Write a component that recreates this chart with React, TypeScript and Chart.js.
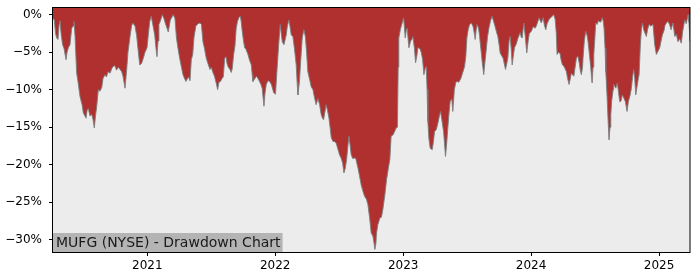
import React, { useEffect, useRef } from "react";
import { Chart, registerables } from "chart.js";

Chart.register(...registerables);

const title = "MUFG (NYSE) - Drawdown Chart";

// decimal-year dates of the drawdown samples
const dates: number[] = [
  2020.263, 2020.273, 2020.283, 2020.292, 2020.302, 2020.310, 2020.318, 2020.326, 2020.338, 2020.349,
  2020.365, 2020.373, 2020.383, 2020.396, 2020.409, 2020.420, 2020.427, 2020.435, 2020.448, 2020.459,
  2020.474, 2020.490, 2020.500, 2020.513, 2020.521, 2020.529, 2020.539, 2020.552, 2020.566, 2020.576,
  2020.586, 2020.595, 2020.605, 2020.617, 2020.630, 2020.644, 2020.654, 2020.670, 2020.681, 2020.693,
  2020.709, 2020.722, 2020.732, 2020.748, 2020.759, 2020.773, 2020.787, 2020.800, 2020.810, 2020.826,
  2020.839, 2020.849, 2020.865, 2020.877, 2020.886, 2020.904, 2020.917, 2020.927, 2020.941, 2020.955,
  2020.969, 2020.982, 2020.998, 2021.009, 2021.019, 2021.031, 2021.045, 2021.058, 2021.068, 2021.076,
  2021.084, 2021.091, 2021.103, 2021.117, 2021.130, 2021.142, 2021.154, 2021.164, 2021.180, 2021.193,
  2021.203, 2021.216, 2021.228, 2021.240, 2021.253, 2021.267, 2021.279, 2021.291, 2021.302, 2021.314,
  2021.322, 2021.334, 2021.344, 2021.355, 2021.365, 2021.380, 2021.396, 2021.412, 2021.423, 2021.435,
  2021.447, 2021.461, 2021.474, 2021.490, 2021.500, 2021.513, 2021.525, 2021.537, 2021.550, 2021.560,
  2021.572, 2021.584, 2021.594, 2021.605, 2021.615, 2021.623, 2021.633, 2021.646, 2021.656, 2021.664,
  2021.675, 2021.685, 2021.695, 2021.705, 2021.716, 2021.727, 2021.734, 2021.742, 2021.752, 2021.761,
  2021.771, 2021.787, 2021.798, 2021.813, 2021.820, 2021.826, 2021.838, 2021.852, 2021.865, 2021.877,
  2021.888, 2021.898, 2021.912, 2021.920, 2021.930, 2021.943, 2021.956, 2021.970, 2021.988, 2022.002,
  2022.013, 2022.027, 2022.039, 2022.047, 2022.055, 2022.068, 2022.086, 2022.095, 2022.107, 2022.115,
  2022.125, 2022.138, 2022.150, 2022.164, 2022.171, 2022.177, 2022.189, 2022.197, 2022.211, 2022.224,
  2022.236, 2022.245, 2022.255, 2022.271, 2022.281, 2022.295, 2022.306, 2022.320, 2022.334, 2022.347,
  2022.359, 2022.369, 2022.378, 2022.388, 2022.398, 2022.409, 2022.420, 2022.430, 2022.438, 2022.451,
  2022.464, 2022.478, 2022.486, 2022.503, 2022.517, 2022.527, 2022.537, 2022.547, 2022.558, 2022.568,
  2022.576, 2022.586, 2022.594, 2022.607, 2022.620, 2022.630, 2022.646, 2022.659, 2022.672, 2022.685,
  2022.698, 2022.713, 2022.724, 2022.738, 2022.750, 2022.763, 2022.771, 2022.779, 2022.787, 2022.792,
  2022.802, 2022.818, 2022.830, 2022.841, 2022.857, 2022.870, 2022.884, 2022.896, 2022.906, 2022.922,
  2022.935, 2022.945, 2022.955, 2022.961, 2022.966, 2022.978, 2022.984, 2022.994, 2023.003, 2023.009,
  2023.016, 2023.025, 2023.031, 2023.045, 2023.058, 2023.068, 2023.076, 2023.088, 2023.097, 2023.107,
  2023.115, 2023.130, 2023.141, 2023.152, 2023.162, 2023.172, 2023.180, 2023.187, 2023.193, 2023.201,
  2023.211, 2023.227, 2023.236, 2023.245, 2023.259, 2023.271, 2023.283, 2023.292, 2023.302, 2023.316,
  2023.331, 2023.341, 2023.349, 2023.359, 2023.367, 2023.380, 2023.388, 2023.400, 2023.412, 2023.422,
  2023.435, 2023.451, 2023.464, 2023.480, 2023.490, 2023.498, 2023.508, 2023.519, 2023.533, 2023.547,
  2023.556, 2023.563, 2023.572, 2023.576, 2023.588, 2023.597, 2023.607, 2023.617, 2023.630, 2023.638,
  2023.648, 2023.659, 2023.670, 2023.683, 2023.695, 2023.705, 2023.714, 2023.728, 2023.740, 2023.750,
  2023.758, 2023.771, 2023.781, 2023.800, 2023.810, 2023.818, 2023.828, 2023.836, 2023.844, 2023.852,
  2023.861, 2023.870, 2023.884, 2023.896, 2023.914, 2023.923, 2023.930, 2023.943, 2023.955, 2023.966,
  2023.977, 2023.986, 2024.002, 2024.016, 2024.031, 2024.041, 2024.055, 2024.063, 2024.074, 2024.080,
  2024.094, 2024.105, 2024.115, 2024.125, 2024.141, 2024.159, 2024.177, 2024.188, 2024.197, 2024.203,
  2024.215, 2024.227, 2024.234, 2024.245, 2024.258, 2024.268, 2024.276, 2024.285, 2024.297, 2024.309,
  2024.315, 2024.324, 2024.334, 2024.344, 2024.354, 2024.365, 2024.377, 2024.385, 2024.393, 2024.402,
  2024.406, 2024.416, 2024.427, 2024.438, 2024.445, 2024.457, 2024.466, 2024.473, 2024.477, 2024.484,
  2024.490, 2024.498, 2024.505, 2024.516, 2024.526, 2024.539, 2024.547, 2024.555, 2024.563, 2024.570,
  2024.578, 2024.584, 2024.594, 2024.602, 2024.609, 2024.617, 2024.623, 2024.630, 2024.641, 2024.645,
  2024.662, 2024.674, 2024.684, 2024.693, 2024.703, 2024.713, 2024.727, 2024.737, 2024.750, 2024.760,
  2024.773, 2024.784, 2024.793, 2024.802, 2024.810, 2024.818, 2024.828, 2024.838, 2024.844, 2024.854,
  2024.862, 2024.870, 2024.880, 2024.891, 2024.901, 2024.910, 2024.922, 2024.934, 2024.945, 2024.953,
  2024.966, 2024.979, 2024.988, 2025.005, 2025.016, 2025.026, 2025.039, 2025.047, 2025.057, 2025.070,
  2025.082, 2025.094, 2025.109, 2025.123, 2025.135, 2025.148, 2025.160, 2025.174, 2025.185, 2025.201,
  2025.213, 2025.227, 2025.234, 2025.242,
];

// drawdown in percent
const drawdown: number[] = [
  -0.5, -0.7, -2.5, -3.1, -3.3, -1.5, -0.8, -2.5, -4.0, -4.5,
  -6.0, -5.0, -4.4, -4.0, -1.8, -1.5, -0.9, -2.8, -7.8, -9.0,
  -10.9, -12.0, -13.1, -13.5, -13.8, -12.8, -12.5, -13.5, -13.3, -14.0,
  -15.1, -13.5, -12.2, -10.0, -10.2, -9.7, -8.5, -8.0, -8.3, -7.6,
  -7.8, -7.2, -6.9, -6.8, -7.4, -7.0, -7.3, -7.6, -8.2, -9.8,
  -7.3, -5.0, -2.9, -1.5, -1.1, -1.5, -2.8, -4.5, -6.7, -6.5,
  -5.8, -5.0, -4.4, -2.5, -0.9, -0.2, -1.5, -2.7, -4.5, -5.6,
  -3.5, -1.3, -0.8, 0, -0.5, -1.2, -1.8, -2.3, -0.7, -0.3,
  0, -0.5, -3.1, -4.5, -5.8, -7.0, -8.0, -8.5, -8.9, -8.5,
  -8.3, -8.8, -6.0, -5.3, -3.0, -1.5, -1.2, -1.1, -1.3, -3.6,
  -4.5, -5.8, -6.5, -7.3, -7.0, -7.7, -8.2, -9.0, -10.0, -9.0,
  -8.9, -8.5, -8.3, -5.8, -5.6, -6.5, -7.0, -7.3, -7.7, -7.2,
  -5.3, -4.2, -1.8, -0.9, -0.4, -0.2, -0.9, -2.2, -3.5, -4.4,
  -4.6, -5.3, -6.0, -6.7, -8.0, -8.9, -8.6, -8.2, -8.5, -8.9,
  -9.3, -9.8, -12.2, -10.5, -9.3, -8.8, -8.9, -9.3, -10.4, -10.6,
  -7.6, -4.0, -1.3, -2.5, -3.6, -4.0, -2.7, -1.5, -0.7, -1.5,
  -2.7, -2.9, -4.5, -6.7, -9.0, -10.7, -9.0, -6.7, -3.1, -2.0,
  -3.0, -5.0, -7.6, -8.8, -9.6, -10.0, -11.0, -12.0, -11.2, -12.0,
  -13.3, -13.8, -14.0, -13.0, -12.0, -12.8, -13.8, -15.2, -16.4, -16.9,
  -16.9, -17.2, -17.7, -18.7, -19.2, -19.8, -21.1, -20.5, -19.3, -17.5,
  -16.2, -17.5, -18.7, -19.2, -19.1, -19.2, -20.4, -21.5, -22.7, -23.5,
  -24.2, -24.6, -25.3, -27.1, -29.1, -29.5, -30.3, -31.3, -30.5, -29.1,
  -28.0, -27.1, -27.0, -26.0, -24.0, -22.0, -20.5, -19.3, -16.2, -16.0,
  -15.5, -15.1, -15.0, -7.0, -3.1, -2.0, -1.6, -1.0, -0.4, -1.5,
  -3.1, -2.0, -1.8, -4.4, -3.5, -3.3, -2.9, -4.5, -6.4, -5.5,
  -4.4, -4.5, -5.0, -6.0, -8.0, -7.2, -6.9, -10.0, -14.2, -16.5,
  -17.8, -18.0, -17.0, -15.6, -15.3, -14.5, -13.5, -12.9, -14.0, -15.6,
  -18.9, -17.0, -15.1, -13.0, -11.6, -11.2, -12.9, -10.0, -9.0, -8.9,
  -9.0, -8.5, -7.8, -6.9, -5.5, -3.1, -2.0, -1.3, -1.1, -1.6,
  -2.5, -3.3, -1.8, -1.3, -1.7, -2.8, -4.5, -6.2, -8.0, -6.5,
  -4.9, -3.0, -1.8, -0.8, -0.2, -0.8, -1.3, -2.2, -2.9, -4.0,
  -5.1, -5.5, -5.8, -7.3, -6.5, -5.8, -3.5, -2.9, -4.5, -6.7,
  -5.5, -4.4, -3.9, -3.2, -2.4, -3.0, -3.1, -1.1, -3.0, -5.1,
  -3.5, -2.5, -2.2, -1.6, -1.8, -1.5, -0.8, -0.4, -0.9, -1.1,
  -0.4, -1.5, -2.0, -1.2, -0.6, -0.3, 0, -0.6, -2.5, -5.3,
  -5.0, -5.2, -6.0, -6.7, -6.9, -7.3, -7.6, -8.5, -9.3, -8.3,
  -7.8, -8.0, -8.2, -7.0, -5.8, -5.5, -6.5, -7.5, -8.0, -7.0,
  -5.8, -3.5, -2.2, -2.8, -3.6, -5.5, -7.0, -8.5, -9.1, -7.0,
  -5.3, -3.2, -1.1, -1.3, -0.8, -1.0, -0.9, -0.4, -0.8, -1.8,
  -4.5, -7.6, -11.0, -14.2, -16.7, -15.0, -13.3, -11.5, -10.0, -9.3,
  -9.8, -9.1, -10.5, -11.6, -11.5, -10.7, -11.2, -11.6, -12.9, -11.6,
  -10.8, -9.8, -8.3, -7.3, -8.5, -10.7, -9.6, -8.5, -8.0, -4.0,
  -2.0, -1.1, -2.0, -2.5, -2.9, -2.0, -1.3, -1.5, -1.4, -1.3,
  -4.0, -5.3, -5.0, -4.4, -3.5, -2.7, -2.1, -1.4, -1.1, -0.9,
  -1.3, -2.0, -1.1, -2.9, -2.6, -3.6, -3.2, -3.8, -2.2, -0.7,
  -1.2, 0, -1.0, -3.6,
];

const yearTicks: number[] = [2021, 2022, 2023, 2024, 2025];
const percentTicks: number[] = [0, -5, -10, -15, -20, -25, -30];

const X_MIN = 2020.263;
const X_MAX = 2025.242;
const Y_MIN = -31.64;
const Y_MAX = 1.03;

const FONT = "'DejaVu Sans', 'Liberation Sans', sans-serif";

const framePlugin = {
  id: "frame",
  beforeDraw(chart: any) {
    const { ctx, chartArea } = chart;
    ctx.save();
    ctx.fillStyle = "#ececec";
    ctx.fillRect(chartArea.left, chartArea.top, chartArea.right - chartArea.left, chartArea.bottom - chartArea.top);
    ctx.restore();
  },
  afterDraw(chart: any) {
    const { ctx, chartArea } = chart;
    const { left, right, top, bottom } = chartArea;
    ctx.save();
    // title box
    ctx.font = `14px ${FONT}`;
    const w = ctx.measureText(title).width;
    ctx.fillStyle = "#b4b4b4";
    ctx.fillRect(left, bottom - 19, w + 5, 19);
    ctx.fillStyle = "#1a1a1a";
    ctx.textBaseline = "alphabetic";
    ctx.textAlign = "left";
    ctx.fillText(title, left + 3, bottom - 5);
    // spines
    ctx.strokeStyle = "#000";
    ctx.lineWidth = 1;
    ctx.strokeRect(left - 0.5, top + 0.5, right - left + 0.5, bottom - top);
    ctx.restore();
  },
};

export default function App() {
  const ref = useRef<HTMLCanvasElement | null>(null);

  useEffect(() => {
    if (!ref.current) return;
    const points = dates.map((d, i) => ({ x: d, y: drawdown[i] }));
    const chart = new Chart(ref.current, {
      type: "line",
      data: {
        datasets: [
          {
            data: points,
            fill: "end",
            backgroundColor: "#b03030",
            borderColor: "rgba(125,125,125,0.9)",
            borderWidth: 1,
            pointRadius: 0,
            tension: 0,
          },
        ],
      },
      options: {
        animation: false,
        responsive: false,
        devicePixelRatio: 1,
        layout: { padding: { top: 7, right: 10, left: 0, bottom: 0 } },
        plugins: { legend: { display: false }, tooltip: { enabled: false }, title: { display: false } },
        scales: {
          x: {
            type: "linear",
            min: X_MIN,
            max: X_MAX,
            afterBuildTicks: (axis: any) => {
              axis.ticks = yearTicks.map((v) => ({ value: v }));
            },
            afterFit: (s: any) => {
              s.height = 28;
              s.paddingLeft = 0;
              s.paddingRight = 0;
            },
            grid: { display: true, drawOnChartArea: false, drawTicks: true, tickLength: 4, color: "#000" },
            border: { display: false },
            ticks: {
              color: "#000",
              font: { family: FONT, size: 12 },
              padding: 3,
              maxRotation: 0,
              autoSkip: false,
              callback: (v: any) => String(v),
            },
          },
          y: {
            type: "linear",
            min: Y_MIN,
            max: Y_MAX,
            afterBuildTicks: (axis: any) => {
              axis.ticks = percentTicks.map((v) => ({ value: v }));
            },
            afterFit: (s: any) => {
              s.width = 53;
              s.paddingTop = 0;
              s.paddingBottom = 0;
            },
            grid: { display: true, drawOnChartArea: false, drawTicks: true, tickLength: 4, color: "#000" },
            border: { display: false },
            ticks: {
              color: "#000",
              font: { family: FONT, size: 12 },
              padding: 7,
              autoSkip: false,
              callback: (v: any) => (v < 0 ? "\u2212" : "") + Math.abs(v) + "%",
            },
          },
        },
      },
      plugins: [framePlugin],
    });
    return () => chart.destroy();
  }, []);

  return (
    <div style={{ position: "fixed", left: 0, top: 0, width: 700, height: 280, background: "#fff" }}>
      <canvas ref={ref} width={700} height={280} style={{ display: "block", width: 700, height: 280 }} />
    </div>
  );
}
